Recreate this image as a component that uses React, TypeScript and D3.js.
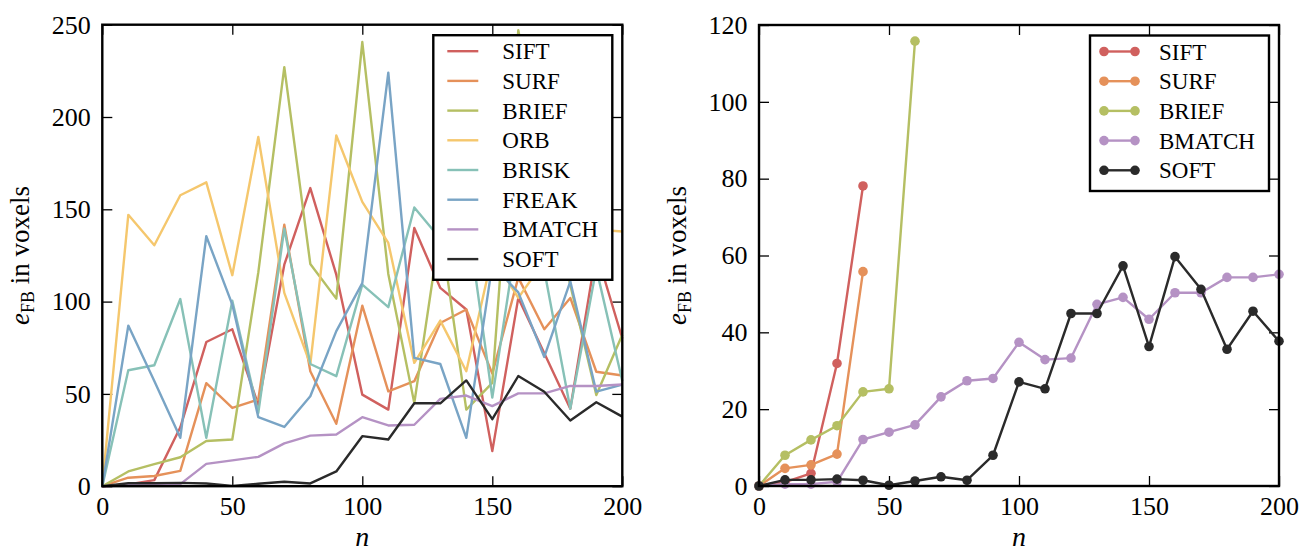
import * as React from 'react'
import * as d3 from 'd3'

// sample sizes on the x axis
const nAll = [0, 10, 20, 30, 40, 50, 60, 70, 80, 90, 100, 110, 120, 130, 140, 150, 160, 170, 180, 190, 200]

// left panel: all descriptors
const siftAll = [0, 1, 3.3, 31.9, 78.1, 85, 44, 120, 161.5, 114.6, 49.6, 41.5, 139.9, 107.4, 95.7, 19, 102, 72, 42, 127, 80]
const surfAll = [0, 4.6, 5.5, 8.3, 55.8, 42.4, 47, 141.7, 62.3, 33.8, 97.8, 51.4, 56.9, 88.4, 95.7, 61, 113, 85, 102, 62, 60]
const briefAll = [0, 8, 12, 15.7, 24.5, 25.3, 115.8, 227, 120.4, 101.6, 240.6, 115, 45, 140, 41.5, 56, 247, 170, 109, 49.4, 82]
const orbAll = [0, 147, 130.5, 157.6, 164.6, 114.3, 189.2, 104.7, 66, 190, 154, 131.8, 66.8, 89.7, 62.3, 125, 102, 122, 120, 139, 138]
const briskAll = [0, 62.8, 65.5, 101.4, 26.2, 100.5, 39.7, 139.5, 66.2, 59.6, 109.2, 97, 151, 134, 150, 48, 140, 117, 42, 118, 57]
const freakAll = [0, 87, 57, 26.2, 135.4, 98.4, 37.4, 32.1, 48.7, 84, 110, 224, 69.5, 66.2, 26.2, 120, 105, 70, 111, 51.2, 55]
const bmatchAll = [0, 0.5, 0.5, 1.1, 12.1, 14, 15.9, 23.2, 27.4, 28, 37.4, 32.9, 33.3, 47.3, 49.1, 43.4, 50.3, 50.3, 54.3, 54.3, 55.1]
const softAll = [0, 1.6, 1.6, 1.8, 1.5, 0.2, 1.3, 2.4, 1.5, 8, 27.1, 25.3, 44.9, 44.9, 57.3, 36.3, 59.7, 51.2, 35.6, 45.5, 37.7]

// right panel: the detectors that stop early
const siftPart = [0, 1, 3.3, 31.9, 78.1]
const surfPart = [0, 4.6, 5.5, 8.3, 55.8]
const briefPart = [0, 8, 12, 15.7, 24.5, 25.3, 115.8]

const leftNames = ['SIFT', 'SURF', 'BRIEF', 'ORB', 'BRISK', 'FREAK', 'BMATCH', 'SOFT']
const leftValues = [siftAll, surfAll, briefAll, orbAll, briskAll, freakAll, bmatchAll, softAll]
const rightNames = ['SIFT', 'SURF', 'BRIEF', 'BMATCH', 'SOFT']
const rightValues = [siftPart, surfPart, briefPart, bmatchAll, softAll]

const xTicks = [0, 50, 100, 150, 200]
const leftYTicks = [0, 50, 100, 150, 200, 250]
const rightYTicks = [0, 20, 40, 60, 80, 100, 120]

const colors: { [k: string]: string } = {
    SIFT: '#d0605e',
    SURF: '#e5915a',
    BRIEF: '#b5bf63',
    ORB: '#f5c76d',
    BRISK: '#87c1b7',
    FREAK: '#79a4c5',
    BMATCH: '#b592c4',
    SOFT: '#2a2a2a',
}

const FONT = 'Liberation Serif, DejaVu Serif, Times New Roman, serif'

interface Panel {
    left: number
    top: number
    width: number
    height: number
    yMax: number
    yTicks: number[]
    names: string[]
    values: number[][]
    markers: boolean
}

const panels: Panel[] = [
    { left: 102.3, top: 24.7, width: 520, height: 461.5, yMax: 250, yTicks: leftYTicks, names: leftNames, values: leftValues, markers: false },
    { left: 759, top: 25, width: 520, height: 461, yMax: 120, yTicks: rightYTicks, names: rightNames, values: rightValues, markers: true },
]

export default class App extends React.Component<{}, {}> {
    private node: SVGSVGElement | null = null

    componentDidMount() {
        this.draw()
    }

    componentDidUpdate() {
        this.draw()
    }

    private draw(): void {
        if (!this.node)
            return
        const svg = d3.select(this.node)
        svg.selectAll('*').remove()
        for (const p of panels)
            this.drawPanel(svg, p)
    }

    private drawPanel(svg: d3.Selection<SVGSVGElement, unknown, null, undefined>, p: Panel): void {
        const g = svg.append('g')
            .attr('transform', `translate(${p.left},${p.top})`)
            .attr('font-family', FONT)

        const x = d3.scaleLinear().domain([0, 200]).range([0, p.width])
        const y = d3.scaleLinear().domain([0, p.yMax]).range([p.height, 0])

        const styleAxis = (a: d3.Selection<SVGGElement, unknown, null, undefined>) => {
            a.attr('font-family', FONT).attr('font-size', 26)
            a.select('.domain').remove()
            a.selectAll('line').attr('stroke', '#000').attr('stroke-width', 1.3)
            a.selectAll('text').attr('fill', '#000')
        }

        // bottom / left with labels, top / right ticks only
        g.append('g')
            .attr('transform', `translate(0,${p.height})`)
            .call(d3.axisBottom(x).tickValues(xTicks).tickSize(-10).tickPadding(10.5).tickFormat(d3.format('d')))
            .call(styleAxis)
        g.append('g')
            .call(d3.axisTop(x).tickValues(xTicks).tickSize(-10).tickFormat(() => ''))
            .call(styleAxis)
        g.append('g')
            .call(d3.axisLeft(y).tickValues(p.yTicks).tickSize(-10).tickPadding(11.5).tickFormat(d3.format('d')))
            .call(styleAxis)
        g.append('g')
            .attr('transform', `translate(${p.width},0)`)
            .call(d3.axisRight(y).tickValues(p.yTicks).tickSize(-10).tickFormat(() => ''))
            .call(styleAxis)

        const line = d3.line<number>()
            .x((_d, i) => x(nAll[i]))
            .y((d) => y(d))

        p.names.forEach((name, k) => {
            const vals = p.values[k]
            g.append('path')
                .datum(vals)
                .attr('fill', 'none')
                .attr('stroke', colors[name])
                .attr('stroke-width', 2.4)
                .attr('stroke-linejoin', 'round')
                .attr('d', line)
            if (p.markers) {
                g.selectAll(null)
                    .data(vals)
                    .enter().append('circle')
                    .attr('cx', (_d, i) => x(nAll[i]))
                    .attr('cy', (d) => y(d))
                    .attr('r', 4.8)
                    .attr('fill', colors[name])
            }
        })

        // frame
        g.append('rect')
            .attr('width', p.width)
            .attr('height', p.height)
            .attr('fill', 'none')
            .attr('stroke', '#000')
            .attr('stroke-width', 2.4)

        // legend, upper right
        const rowH = 29.7
        const lw = 179
        const lh = p.names.length * rowH + 7
        const lg = g.append('g').attr('transform', `translate(${p.width - 10 - lw},10.5)`)
        lg.append('rect')
            .attr('width', lw)
            .attr('height', lh)
            .attr('fill', '#fff')
            .attr('stroke', '#000')
            .attr('stroke-width', 2.4)
        p.names.forEach((name, k) => {
            const cy = 16 + k * rowH
            lg.append('line')
                .attr('x1', 14).attr('x2', 45)
                .attr('y1', cy).attr('y2', cy)
                .attr('stroke', colors[name])
                .attr('stroke-width', 2.4)
            if (p.markers) {
                for (const cx of [14, 45])
                    lg.append('circle').attr('cx', cx).attr('cy', cy).attr('r', 4.8).attr('fill', colors[name])
            }
            lg.append('text')
                .attr('x', 69)
                .attr('y', cy)
                .attr('dy', '0.35em')
                .attr('font-size', 23)
                .attr('fill', '#000')
                .text(name)
        })

        // axis titles
        g.append('text')
            .attr('x', p.width / 2)
            .attr('y', 546 - p.top)
            .attr('text-anchor', 'middle')
            .attr('font-size', 28)
            .attr('font-style', 'italic')
            .text('n')

        const yl = g.append('text')
            .attr('transform', `translate(${29 - p.left + (p.markers ? 657 : 0)},${p.height / 2}) rotate(-90)`)
            .attr('text-anchor', 'middle')
            .attr('font-size', 27)
        yl.append('tspan').attr('font-style', 'italic').text('e')
        yl.append('tspan').attr('dy', 5).attr('font-size', 18).text('FB')
        yl.append('tspan').attr('dy', -5).text(' in voxels')
    }

    render() {
        return (
            <svg
                width={1300}
                height={552}
                style={{ position: 'absolute', left: 0, top: 0, background: '#fff' }}
                ref={node => { this.node = node }} />
        )
    }
}
